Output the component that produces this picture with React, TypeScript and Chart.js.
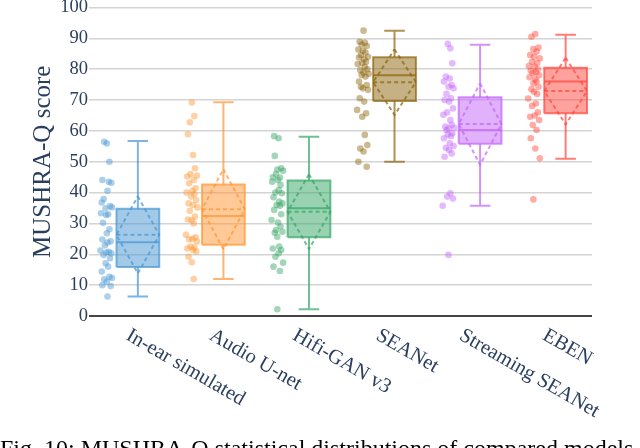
import React, { useEffect, useRef } from "react";
import { Chart, registerables } from "chart.js";

Chart.register(...registerables);

const categories = ["In-ear simulated", "Audio U-net", "Hifi-GAN v3", "SEANet", "Streaming SEANet", "EBEN"];
const yTicks = [0, 10, 20, 30, 40, 50, 60, 70, 80, 90, 100];
const caption = "Fig. 10: MUSHRA-Q statistical distributions of compared models";

// box statistics
const lowerWhisker = [6.3, 12.0, 2.2, 50.0, 35.7, 51.0];
const q1 = [15.9, 23.1, 25.5, 69.7, 55.8, 65.7];
const median = [23.9, 32.4, 34.9, 78.0, 60.3, 76.0];
const q3 = [34.8, 42.6, 43.9, 83.9, 70.9, 80.5];
const upperWhisker = [56.7, 69.3, 58.1, 92.5, 87.9, 91.2];
const mean = [26.3, 34.6, 33.8, 75.8, 62.2, 72.9];
const sd = [12.5, 13.0, 12.1, 10.6, 13.2, 10.8];

// individual scores (points)
const inEarScores = [56.5, 55.9, 50.0, 44.1, 43.5, 43.2, 40.6, 37.9, 36.8, 35.6, 35.2, 34.9, 33.3, 33.0, 32.7, 30.2, 28.1, 26.8, 24.8, 24.2, 23.8, 22.9, 21.2, 20.8, 20.6, 20.3, 19.8, 18.7, 17.1, 16.0, 14.4, 12.7, 12.3, 11.9, 11.1, 10.0, 9.7, 6.3];
const unetScores = [69.2, 64.8, 62.8, 58.9, 52.2, 47.9, 46.0, 45.5, 45.2, 44.1, 43.0, 41.4, 40.6, 40.0, 39.5, 38.7, 37.6, 36.5, 36.0, 35.2, 34.1, 32.2, 31.3, 31.0, 30.0, 26.3, 25.5, 25.0, 24.9, 24.1, 22.5, 22.2, 21.9, 21.4, 20.9, 19.2, 17.4, 12.0];
const hifiScores = [58.3, 57.6, 51.9, 47.9, 47.5, 47.1, 46.0, 45.0, 44.9, 44.1, 43.5, 42.5, 40.8, 40.0, 39.8, 38.5, 37.1, 36.5, 36.0, 35.7, 34.4, 33.0, 31.1, 30.3, 29.0, 27.9, 27.3, 27.0, 25.7, 22.5, 21.9, 21.4, 20.3, 19.2, 17.3, 16.0, 14.6, 2.2];
const seanetScores = [92.5, 88.9, 88.6, 88.0, 87.5, 86.4, 86.0, 85.4, 84.6, 84.0, 83.8, 83.2, 82.4, 82.0, 81.7, 80.8, 80.0, 79.7, 78.9, 78.5, 78.1, 77.6, 76.0, 74.9, 74.3, 73.8, 73.3, 70.6, 69.5, 66.8, 65.7, 64.6, 58.7, 55.4, 54.3, 53.3, 50.0, 48.4];
const streamScores = [88.2, 86.8, 81.9, 77.6, 77.0, 76.0, 74.9, 74.3, 73.8, 72.0, 70.6, 70.0, 69.5, 67.3, 66.0, 65.2, 63.5, 62.0, 61.4, 61.0, 60.8, 60.3, 59.2, 58.8, 58.3, 57.6, 56.0, 55.1, 54.5, 53.8, 52.7, 51.6, 39.8, 38.7, 38.1, 35.7, 19.8];
const ebenScores = [91.4, 90.5, 87.0, 86.5, 85.7, 84.6, 84.0, 83.5, 82.4, 82.0, 81.0, 80.8, 80.0, 79.5, 79.0, 78.7, 78.0, 77.4, 76.7, 76.0, 75.4, 74.3, 73.5, 72.7, 72.0, 70.5, 68.9, 68.1, 66.0, 65.0, 64.6, 63.5, 61.9, 60.3, 57.6, 54.3, 51.1, 37.8];

// horizontal scatter of each point (-1 .. 1)
const inEarJitter = [-0.3, 0.1, 0.5, -0.6, 0.4, 0.8, 0.2, -0.4, -0.7, 0.6, 0.9, -0.1, -0.8, 0.3, 0.0, -0.5, 0.5, 0.1, -0.6, 0.7, 0.2, -0.2, -0.9, 0.4, 0.0, 0.8, -0.4, 0.6, -0.1, 0.3, -0.7, 0.5, 0.9, -0.3, 0.1, -0.6, 0.7, 0.2];
const unetJitter = [0.0, 0.4, -0.3, -0.6, 0.2, 0.5, -0.2, 0.8, -0.7, 0.3, -0.4, 0.6, 0.1, -0.8, 0.4, -0.1, 0.7, -0.5, 0.2, 0.9, -0.3, 0.5, -0.6, 0.0, 0.3, -0.9, 0.6, 0.1, -0.4, 0.8, -0.2, 0.4, -0.7, 0.2, 0.7, -0.5, 0.0, 0.3];
const hifiJitter = [-0.5, 0.2, -0.4, 0.6, 0.0, 0.9, -0.2, -0.7, 0.4, 0.1, -0.8, 0.5, 0.2, -0.3, 0.7, -0.6, 0.3, 0.8, -0.1, 0.4, -0.5, 0.6, -0.9, 0.1, 0.5, -0.2, 0.8, -0.4, 0.0, 0.3, -0.7, 0.6, 0.2, -0.3, 0.9, -0.6, 0.4, 0.0];
const seanetJitter = [0.1, -0.5, 0.3, -0.2, 0.6, -0.7, 0.0, 0.4, -0.3, 0.8, -0.6, 0.2, 0.5, -0.1, -0.8, 0.3, 0.7, -0.4, 0.1, 0.9, -0.2, 0.4, -0.6, 0.6, -0.3, 0.0, 0.8, -0.5, 0.2, -0.9, 0.5, -0.1, 0.3, 0.7, -0.4, 0.1, -0.7, 0.6];
const streamJitter = [-0.1, 0.3, 0.6, -0.4, 0.2, -0.7, 0.5, 0.0, 0.8, -0.3, 0.4, -0.6, 0.1, 0.7, -0.2, -0.8, 0.3, 0.5, -0.5, 0.9, 0.0, -0.3, 0.6, -0.1, 0.4, -0.7, 0.2, 0.8, -0.4, 0.1, 0.5, -0.6, 0.3, -0.2, 0.7, -0.9, 0.0, 0.4];
const ebenJitter = [0.2, -0.4, 0.7, -0.1, 0.4, -0.6, 0.0, 0.9, -0.3, 0.5, -0.8, 0.1, 0.6, -0.5, 0.3, -0.2, 0.8, -0.7, 0.2, 0.4, -0.1, 0.7, -0.4, 0.0, 0.5, -0.9, 0.3, -0.3, 0.6, 0.1, -0.6, 0.8, -0.2, 0.4, -0.5, 0.2, 0.9, -0.1];

const allScores = [inEarScores, unetScores, hifiScores, seanetScores, streamScores, ebenScores];
const allJitter = [inEarJitter, unetJitter, hifiJitter, seanetJitter, streamJitter, ebenJitter];

// styling
const palette = [
  [70, 150, 210],
  [255, 150, 50],
  [50, 165, 100],
  [140, 100, 10],
  [195, 100, 250],
  [255, 70, 60],
];
const rgba = (c: number[], a: number) => `rgba(${c[0]},${c[1]},${c[2]},${a})`;
const FONT = "'Liberation Serif', 'Times New Roman', serif";
const TEXT = "#2a3f5f";
const HALF_BOX = 0.25;
const HALF_CAP = 0.12;
const POINT_OFFSET = -0.37;
const JITTER_SPAN = 0.075;
const LABEL_SIZE = 20.5;

const xLabelPlugin = {
  id: "rotatedXLabels",
  afterDraw(chart: any) {
    const sc = chart.scales.xc;
    const ctx = chart.ctx;
    ctx.save();
    ctx.font = `${LABEL_SIZE}px ${FONT}`;
    ctx.fillStyle = TEXT;
    ctx.textAlign = "left";
    ctx.textBaseline = "alphabetic";
    categories.forEach((c, i) => {
      const px = sc.getPixelForValue(i) - 2;
      ctx.save();
      ctx.translate(px, chart.chartArea.bottom + 11);
      ctx.rotate(Math.PI / 6);
      ctx.fillText(c, 0, LABEL_SIZE * 0.66);
      ctx.restore();
    });
    ctx.restore();
  },
};

export default function App() {
  const ref = useRef<HTMLCanvasElement>(null);

  useEffect(() => {
    const datasets: any[] = [];
    categories.forEach((_, i) => {
      const col = palette[i];
      const stroke = rgba(col, 0.7);
      const common = {
        showLine: true,
        pointRadius: 0,
        pointHoverRadius: 0,
        tension: 0,
        spanGaps: false,
        borderColor: stroke,
        borderWidth: 2,
        fill: false,
      };
      // box body
      datasets.push({
        ...common,
        data: [
          { x: i - HALF_BOX, y: q1[i] },
          { x: i + HALF_BOX, y: q1[i] },
          { x: i + HALF_BOX, y: q3[i] },
          { x: i - HALF_BOX, y: q3[i] },
          { x: i - HALF_BOX, y: q1[i] },
        ],
        fill: "shape",
        backgroundColor: rgba(col, 0.5),
      });
      // whiskers and caps
      datasets.push({
        ...common,
        data: [
          { x: i, y: q3[i] },
          { x: i, y: upperWhisker[i] },
          { x: i, y: null },
          { x: i - HALF_CAP, y: upperWhisker[i] },
          { x: i + HALF_CAP, y: upperWhisker[i] },
          { x: i, y: null },
          { x: i, y: q1[i] },
          { x: i, y: lowerWhisker[i] },
          { x: i, y: null },
          { x: i - HALF_CAP, y: lowerWhisker[i] },
          { x: i + HALF_CAP, y: lowerWhisker[i] },
        ],
      });
      // median
      datasets.push({
        ...common,
        data: [
          { x: i - HALF_BOX, y: median[i] },
          { x: i + HALF_BOX, y: median[i] },
        ],
      });
      // mean line
      datasets.push({
        ...common,
        borderDash: [4, 3],
        data: [
          { x: i - HALF_BOX, y: mean[i] },
          { x: i + HALF_BOX, y: mean[i] },
        ],
      });
      // mean ± sd diamond
      datasets.push({
        ...common,
        borderDash: [4, 3],
        data: [
          { x: i, y: mean[i] + sd[i] },
          { x: i + HALF_BOX, y: mean[i] },
          { x: i, y: mean[i] - sd[i] },
          { x: i - HALF_BOX, y: mean[i] },
          { x: i, y: mean[i] + sd[i] },
        ],
      });
      // points
      datasets.push({
        showLine: false,
        data: allScores[i].map((v, k) => ({ x: i + POINT_OFFSET + allJitter[i][k] * JITTER_SPAN, y: v })),
        pointRadius: 3.3,
        pointHoverRadius: 3.3,
        pointBorderWidth: 0,
        backgroundColor: rgba(col, 0.45),
        borderColor: "rgba(0,0,0,0)",
      });
    });

    const chart = new Chart(ref.current!, {
      type: "scatter",
      data: { datasets },
      plugins: [xLabelPlugin],
      options: {
        animation: false,
        responsive: true,
        maintainAspectRatio: false,
        events: [],
        layout: { padding: { left: 0, top: 7.5, right: 48, bottom: 132 } },
        plugins: { legend: { display: false }, tooltip: { enabled: false } },
        scales: {
          x: { type: "linear", min: -0.536, max: 5.308, display: false },
          xc: { type: "category", labels: categories, offset: true, display: false, position: "bottom" },
          y: {
            min: 0,
            max: 100,
            afterBuildTicks: (s: any) => {
              s.ticks = yTicks.map((v) => ({ value: v }));
            },
            afterFit: (s: any) => {
              s.width = 92;
              s.paddingTop = 0;
              s.paddingBottom = 0;
            },
            border: { display: false },
            grid: {
              color: (c: any) => (c.tick && c.tick.value === 0 ? "#444444" : "#d4d4d4"),
              lineWidth: (c: any) => (c.tick && c.tick.value === 0 ? 2 : 1.5),
              drawTicks: true,
              tickLength: 3,
            },
            ticks: { color: TEXT, font: { family: FONT, size: 18.5 }, padding: 1 },
            title: {
              display: true,
              text: "MUSHRA-Q score",
              color: TEXT,
              font: { family: FONT, size: 25 },
              padding: { top: 28, bottom: 0 },
            },
          },
        },
      } as any,
    });
    return () => chart.destroy();
  }, []);

  return (
    <div style={{ position: "fixed", left: 0, top: 0, width: 640, height: 448, overflow: "hidden", background: "#fff" }}>
      <div style={{ position: "absolute", left: 0, top: 0, width: 640, height: 448 }}>
        <canvas ref={ref} />
      </div>
      <div
        style={{
          position: "absolute",
          left: 0,
          top: 436,
          whiteSpace: "nowrap",
          fontFamily: FONT,
          fontSize: 24,
          lineHeight: 1,
          color: "#000",
        }}
      >
        {caption}
      </div>
    </div>
  );
}
